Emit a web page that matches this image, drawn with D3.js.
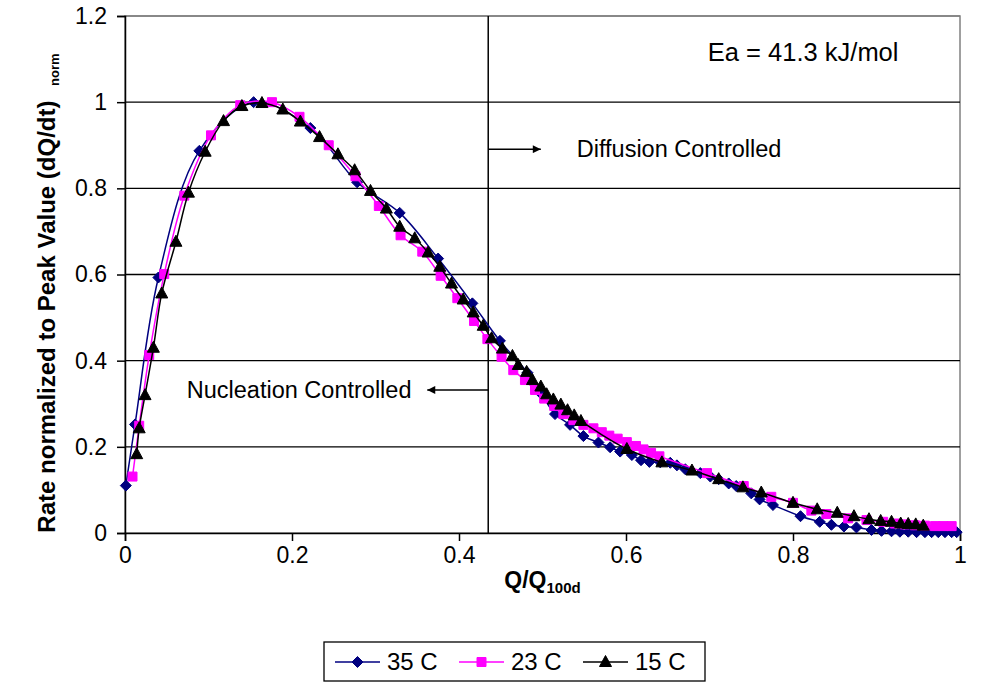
<!DOCTYPE html>
<html>
<head>
<meta charset="utf-8">
<script src="https://cdn.jsdelivr.net/npm/d3@7"></script>
<style>
  body { margin: 0; background: #fff; }
  text { font-family: Arial, "Liberation Sans", sans-serif; }
</style>
</head>
<body>
<svg id="chart" width="997" height="693"></svg>
<script>
// series values: [Q/Q100d, normalized rate]
var s35 = [
  [0.001, 0.110], [0.012, 0.252], [0.040, 0.593], [0.089, 0.887], [0.154, 1.000],
  [0.222, 0.940], [0.278, 0.814], [0.329, 0.743], [0.375, 0.637], [0.416, 0.533],
  [0.449, 0.446], [0.482, 0.372], [0.499, 0.322], [0.515, 0.276], [0.533, 0.251],
  [0.549, 0.225], [0.567, 0.210], [0.581, 0.199], [0.593, 0.189], [0.607, 0.181],
  [0.618, 0.169], [0.628, 0.165], [0.641, 0.164], [0.653, 0.163], [0.661, 0.157],
  [0.671, 0.148], [0.689, 0.139], [0.701, 0.131], [0.711, 0.125], [0.723, 0.115],
  [0.732, 0.109], [0.750, 0.092], [0.760, 0.078], [0.776, 0.065], [0.809, 0.039],
  [0.832, 0.026], [0.846, 0.019], [0.861, 0.015], [0.876, 0.013], [0.894, 0.007],
  [0.906, 0.005], [0.918, 0.004], [0.928, 0.003], [0.938, 0.003], [0.948, 0.002],
  [0.958, 0.002], [0.966, 0.002], [0.974, 0.002], [0.982, 0.002], [0.990, 0.002],
  [0.996, 0.002]
];

var s23 = [
  [0.009, 0.131], [0.017, 0.249], [0.029, 0.413], [0.047, 0.601], [0.071, 0.783],
  [0.103, 0.923], [0.138, 0.993], [0.176, 1.000], [0.209, 0.966], [0.244, 0.900],
  [0.276, 0.828], [0.304, 0.759], [0.330, 0.691], [0.356, 0.653], [0.378, 0.597],
  [0.398, 0.545], [0.418, 0.492], [0.434, 0.450], [0.451, 0.409], [0.465, 0.378],
  [0.479, 0.355], [0.491, 0.332], [0.502, 0.312], [0.514, 0.295], [0.525, 0.276],
  [0.537, 0.262], [0.549, 0.251], [0.561, 0.243], [0.571, 0.234], [0.580, 0.226],
  [0.590, 0.219], [0.601, 0.211], [0.612, 0.202], [0.621, 0.194], [0.630, 0.186],
  [0.640, 0.178], [0.697, 0.139], [0.741, 0.109], [0.774, 0.084], [0.800, 0.070],
  [0.822, 0.052], [0.840, 0.044], [0.866, 0.034], [0.888, 0.030], [0.908, 0.026],
  [0.922, 0.022], [0.934, 0.020], [0.946, 0.018], [0.958, 0.017], [0.970, 0.016],
  [0.980, 0.016], [0.990, 0.016]
];

var s15 = [
  [0.014, 0.183], [0.017, 0.243], [0.024, 0.320], [0.034, 0.430], [0.044, 0.556],
  [0.061, 0.676], [0.076, 0.790], [0.096, 0.885], [0.118, 0.956], [0.140, 0.991],
  [0.164, 0.998], [0.189, 0.983], [0.210, 0.955], [0.233, 0.919], [0.255, 0.879],
  [0.275, 0.842], [0.294, 0.794], [0.313, 0.753], [0.329, 0.711], [0.347, 0.684],
  [0.363, 0.651], [0.377, 0.618], [0.391, 0.579], [0.405, 0.542], [0.417, 0.512],
  [0.429, 0.481], [0.439, 0.452], [0.452, 0.428], [0.464, 0.411], [0.471, 0.390],
  [0.481, 0.374], [0.488, 0.355], [0.498, 0.340], [0.505, 0.322], [0.513, 0.310],
  [0.522, 0.298], [0.530, 0.285], [0.538, 0.273], [0.546, 0.260], [0.601, 0.195],
  [0.643, 0.164], [0.679, 0.145], [0.711, 0.125], [0.740, 0.106], [0.762, 0.094],
  [0.800, 0.070], [0.829, 0.055], [0.853, 0.047], [0.873, 0.039], [0.891, 0.032],
  [0.905, 0.028], [0.918, 0.026], [0.929, 0.022], [0.938, 0.021], [0.947, 0.020],
  [0.956, 0.017]
];

var seriesNames = ["35 C", "23 C", "15 C"];
var xTicks = [0, 0.2, 0.4, 0.6, 0.8, 1];
var yTicks = [0, 0.2, 0.4, 0.6, 0.8, 1, 1.2];

// annotation values (in data units)
var splitX = 0.435;
var diffusion = {x: 0.498, y: 0.891, label: "Diffusion Controlled", labelX: 0.541};
var nucleation = {x: 0.362, y: 0.332, label: "Nucleation Controlled", labelX: 0.074};
var eaNote = {x: 0.698, y: 1.116, label: "Ea = 41.3 kJ/mol"};

var margins = {left: 125, right: 37, top: 16, bottom: 160};
var width = 997 - margins.left - margins.right;
var height = 693 - margins.top - margins.bottom;
var fontSize = 23;

var xScale = d3.scaleLinear().domain([0, 1]).range([0, width]);
var yScale = d3.scaleLinear().domain([0, 1.2]).range([height, 0]);

var svg = d3.select("#chart");
var g = svg.append("g")
  .attr("transform", "translate(" + margins.left + "," + margins.top + ")");

// plot area border (gray), gridlines (black)
g.append("rect")
  .attr("width", width).attr("height", height)
  .attr("fill", "none").attr("stroke", "#808080").attr("stroke-width", 1.5);

g.selectAll(".grid")
  .data(yTicks.filter(d => d > 0))
  .enter().append("line")
  .attr("class", "grid")
  .attr("x1", 0).attr("x2", width)
  .attr("y1", d => yScale(d)).attr("y2", d => yScale(d))
  .attr("stroke", d => d == 1.2 ? "#808080" : "#000")
  .attr("stroke-width", 1.3);

// axes
var xAxis = g.append("g")
  .attr("transform", "translate(0," + height + ")")
  .call(d3.axisBottom(xScale).tickValues(xTicks).tickSize(8).tickPadding(6)
    .tickFormat(d3.format("")));
var yAxis = g.append("g")
  .call(d3.axisLeft(yScale).tickValues(yTicks).tickSize(8).tickPadding(10)
    .tickFormat(d3.format("")));

[xAxis, yAxis].forEach(function(a) {
  a.select(".domain").attr("stroke", "#000").attr("stroke-width", 1.5);
  a.selectAll(".tick line").attr("stroke", "#000").attr("stroke-width", 1.5);
  a.selectAll(".tick text")
    .attr("font-size", fontSize)
    .attr("font-family", "Arial, 'Liberation Sans', sans-serif")
    .attr("fill", "#000");
});

// annotations
g.append("line")
  .attr("x1", xScale(splitX)).attr("x2", xScale(splitX))
  .attr("y1", 0).attr("y2", height)
  .attr("stroke", "#000").attr("stroke-width", 1.5);

svg.append("defs").append("marker")
  .attr("id", "arrow")
  .attr("viewBox", "0 0 10 10")
  .attr("refX", 10).attr("refY", 5)
  .attr("markerWidth", 10).attr("markerHeight", 8)
  .attr("markerUnits", "userSpaceOnUse")
  .attr("orient", "auto")
  .append("path").attr("d", "M0,0L10,5L0,10Z").attr("fill", "#000");

[diffusion, nucleation].forEach(function(a) {
  g.append("line")
    .attr("x1", xScale(splitX)).attr("x2", xScale(a.x))
    .attr("y1", yScale(a.y)).attr("y2", yScale(a.y))
    .attr("stroke", "#000").attr("stroke-width", 1.5)
    .attr("marker-end", "url(#arrow)");
  g.append("text")
    .attr("x", xScale(a.labelX)).attr("y", yScale(a.y))
    .attr("dy", "0.35em")
    .attr("font-size", 23.5)
    .text(a.label);
});

g.append("text")
  .attr("x", xScale(eaNote.x)).attr("y", yScale(eaNote.y))
  .attr("dy", "0.35em")
  .attr("font-size", 25.5)
  .text(eaNote.label);

// series
var styles = [
  {data: s35, color: "#000080", shape: "M0,-5.5L5.5,0L0,5.5L-5.5,0Z"},
  {data: s23, color: "#FF00FF", shape: "M-4.5,-4.5H4.5V4.5H-4.5Z"},
  {data: s15, color: "#000000", shape: "M0,-6.5L6,4.5L-6,4.5Z"}
];

var line = d3.line()
  .x(d => xScale(d[0]))
  .y(d => yScale(d[1]))
  .curve(d3.curveCatmullRom);

styles.forEach(function(s) {
  var sg = g.append("g");
  sg.append("path")
    .attr("d", line(s.data))
    .attr("fill", "none")
    .attr("stroke", s.color)
    .attr("stroke-width", 1.5);
  sg.selectAll("path.pt")
    .data(s.data)
    .enter().append("path")
    .attr("class", "pt")
    .attr("d", s.shape)
    .attr("transform", d => "translate(" + xScale(d[0]) + "," + yScale(d[1]) + ")")
    .attr("fill", s.color)
    .attr("stroke", s.color)
    .attr("stroke-width", 1);
});

// axis titles
var xTitle = svg.append("text")
  .attr("x", margins.left + width / 2)
  .attr("y", 588)
  .attr("text-anchor", "middle")
  .attr("font-size", fontSize)
  .attr("font-weight", "bold");
xTitle.append("tspan").text("Q/Q");
xTitle.append("tspan").attr("font-size", 15).attr("dy", 5).text("100d");

var yTitle = svg.append("text")
  .attr("transform", "translate(55,293) rotate(-90)")
  .attr("text-anchor", "middle")
  .attr("font-size", 24)
  .attr("font-weight", "bold");
yTitle.append("tspan").text("Rate normalized to Peak Value (dQ/dt) ");
yTitle.append("tspan").attr("font-size", 13).attr("dx", 8).attr("dy", 4).text("norm");

// legend
var legend = svg.append("g").attr("transform", "translate(324,642)");
legend.append("rect")
  .attr("width", 381).attr("height", 39)
  .attr("fill", "#fff").attr("stroke", "#000").attr("stroke-width", 1.3);

var legendX = [11, 135, 259];
styles.forEach(function(s, i) {
  var item = legend.append("g").attr("transform", "translate(" + legendX[i] + ",20)");
  item.append("line")
    .attr("x1", 0).attr("x2", 45).attr("y1", 0).attr("y2", 0)
    .attr("stroke", s.color).attr("stroke-width", 1.5);
  item.append("path")
    .attr("d", s.shape)
    .attr("transform", "translate(22.5,0)")
    .attr("fill", s.color).attr("stroke", s.color);
  item.append("text")
    .attr("x", 52).attr("dy", "0.35em")
    .attr("font-size", 24)
    .text(seriesNames[i]);
});
</script>
</body>
</html>
